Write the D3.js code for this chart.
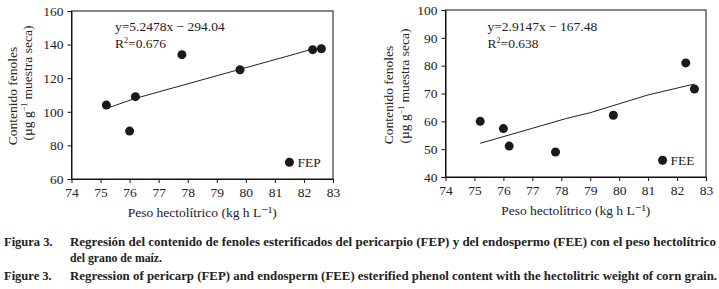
<!DOCTYPE html>
<html>
<head>
<meta charset="utf-8">
<script src="https://cdn.jsdelivr.net/npm/d3@7"></script>
<style>
  body { margin: 0; background: #fff; }
  svg text { font-family: "Times New Roman", "Liberation Serif", "DejaVu Serif", serif; fill: #222; }
</style>
</head>
<body>
<svg id="chart" width="719" height="289"></svg>
<script>
// values
const hectolitric = [75.2, 76.0, 76.2, 77.8, 79.8, 82.3, 82.6];
const fepValues = [104, 88.5, 109, 134, 125, 137, 137.5];
const feeValues = [60, 57.4, 51.1, 49, 62.2, 81, 71.6];

// trend lines as drawn (slightly kinked in the original)
const fepTrendX = [75.2, 76.2, 79.8, 81.7, 82.25];
const fepTrendY = [102, 108, 125.3, 134.4, 137.2];
const feeTrendX = [75.2, 77.0, 78.2, 79.0, 81.0, 82.6];
const feeTrendY = [52.1, 57.5, 61.1, 63.1, 69.5, 73.4];

const xTicks = [74, 75, 76, 77, 78, 79, 80, 81, 82, 83];
const fepTicks = [60, 80, 100, 120, 140, 160];
const feeTicks = [40, 50, 60, 70, 80, 90, 100];

const captionEs = ["Figura 3.", "Regresión del contenido de fenoles esterificados del pericarpio (FEP) y del endospermo (FEE) con el peso hectolítrico", "del grano de maíz."];
const captionEn = ["Figure 3.", "Regression of pericarp (FEP) and endosperm (FEE) esterified phenol content with the hectolitric weight of corn grain."];

const serif = "'Times New Roman', 'Liberation Serif', 'DejaVu Serif', serif";
const svg = d3.select("#chart");

function drawPanel(cfg) {
  const { left, top, width, height } = cfg;
  const g = svg.append("g").attr("transform", `translate(${left},${top})`)
    .attr("font-family", serif);

  const x = d3.scaleLinear().domain([74, 83]).range([0, width]);
  const y = d3.scaleLinear().domain(cfg.yDomain).range([height, 0]);

  // frame
  g.append("rect")
    .attr("width", width).attr("height", height)
    .attr("fill", "none").attr("stroke", "#111").attr("stroke-width", 1);

  const xAxis = g.append("g")
    .attr("transform", `translate(0,${height})`)
    .call(d3.axisBottom(x).tickValues(xTicks).tickSize(4).tickSizeOuter(0).tickPadding(4));
  const yAxis = g.append("g")
    .call(d3.axisLeft(y).tickValues(cfg.yTicks).tickSize(4).tickSizeOuter(0).tickPadding(4));
  [xAxis, yAxis].forEach(a => {
    a.attr("font-family", serif);
    a.select(".domain").attr("stroke", "#111");
    a.selectAll(".tick line").attr("stroke", "#111");
    a.selectAll("text")
      .attr("font-size", 13.5)
      .style("font-family", serif)
      .attr("fill", "#333");
  });

  // trend line
  const pts = cfg.trendX.map((d, i) => [d, cfg.trendY[i]]);
  g.append("path")
    .datum(pts)
    .attr("d", d3.line().x(d => x(d[0])).y(d => y(d[1])))
    .attr("fill", "none").attr("stroke", "#222").attr("stroke-width", 1);

  // points
  g.selectAll(".dot")
    .data(hectolitric)
    .enter().append("circle")
    .attr("cx", d => x(d))
    .attr("cy", (_, i) => y(cfg.values[i]))
    .attr("r", 4.5)
    .attr("fill", "#1a1a1a");

  // legend marker
  g.append("circle")
    .attr("cx", x(cfg.legendAt[0])).attr("cy", y(cfg.legendAt[1]))
    .attr("r", 4.5).attr("fill", "#1a1a1a");
  g.append("text")
    .attr("x", x(cfg.legendAt[0]) + 8).attr("y", y(cfg.legendAt[1]) + 4.5)
    .attr("font-size", 13.5).text(cfg.label);

  // equation
  g.append("text")
    .attr("x", cfg.eqX).attr("y", cfg.eqY)
    .attr("font-size", 13.5).text(cfg.equation);
  const r2 = g.append("text")
    .attr("x", cfg.eqX).attr("y", cfg.eqY + 17)
    .attr("font-size", 13.5);
  r2.append("tspan").text("R");
  r2.append("tspan").attr("font-size", 8).attr("dy", -5).text("2");
  r2.append("tspan").attr("dy", 5).text("=" + cfg.r2);

  // axis titles
  g.append("text")
    .attr("x", width / 2).attr("y", height + 37.5)
    .attr("text-anchor", "middle").attr("font-size", 13.5)
    .text("Peso hectolítrico (kg h L⁻¹)");

  g.append("text")
    .attr("transform", `translate(${cfg.yTitleX1},${cfg.yTitleC1}) rotate(-90)`)
    .attr("text-anchor", "middle").attr("font-size", 13.5)
    .text("Contenido fenoles");
  const t2 = g.append("text")
    .attr("transform", `translate(${cfg.yTitleX2},${cfg.yTitleC2}) rotate(-90)`)
    .attr("text-anchor", "middle").attr("font-size", 13.5);
  t2.append("tspan").text("(µg g");
  t2.append("tspan").attr("font-size", 8).attr("dy", -5).text("−1");
  t2.append("tspan").attr("dy", 5).text(" muestra seca)");
}

drawPanel({
  left: 71.5, top: 11, width: 261.5, height: 168,
  yDomain: [60, 160], yTicks: fepTicks, values: fepValues,
  trendX: fepTrendX, trendY: fepTrendY,
  legendAt: [81.5, 70], label: "FEP",
  equation: "y=5.2478x − 294.04", r2: "0.676", eqX: 43.5, eqY: 20,
  yTitleX1: -54.5, yTitleC1: 85, yTitleX2: -39.5, yTitleC2: 72
});

drawPanel({
  left: 445.5, top: 10, width: 260.5, height: 167,
  yDomain: [40, 100], yTicks: feeTicks, values: feeValues,
  trendX: feeTrendX, trendY: feeTrendY,
  legendAt: [81.5, 46], label: "FEE",
  equation: "y=2.9147x − 167.48", r2: "0.638", eqX: 42, eqY: 20.5,
  yTitleX1: -52.5, yTitleC1: 85, yTitleX2: -36.5, yTitleC2: 76
});

// caption
const cap = svg.append("g")
  .attr("font-family", serif).attr("font-weight", "bold").attr("font-size", 12.5);
cap.append("text").attr("x", 4).attr("y", 246).text(captionEs[0]);
cap.append("text").attr("x", 70).attr("y", 246)
  .attr("textLength", 646).attr("lengthAdjust", "spacingAndGlyphs").text(captionEs[1]);
cap.append("text").attr("x", 70).attr("y", 262)
  .attr("textLength", 92).attr("lengthAdjust", "spacingAndGlyphs").text(captionEs[2]);
cap.append("text").attr("x", 4).attr("y", 280).text(captionEn[0]);
cap.append("text").attr("x", 70).attr("y", 280)
  .attr("textLength", 647).attr("lengthAdjust", "spacingAndGlyphs").text(captionEn[1]);
</script>
</body>
</html>
